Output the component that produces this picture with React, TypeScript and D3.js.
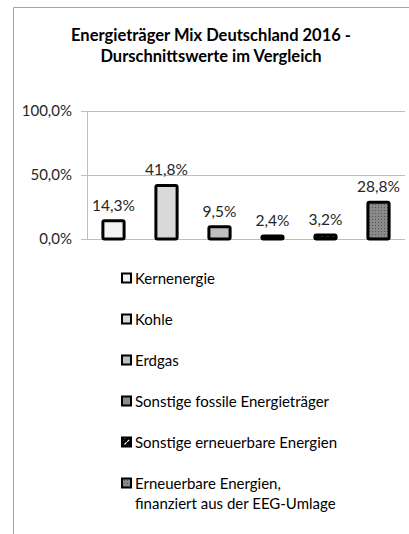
import * as d3 from "d3";
import React, { useEffect, useRef } from "react";

const categories = [
  "Kernenergie",
  "Kohle",
  "Erdgas",
  "Sonstige fossile Energieträger",
  "Sonstige erneuerbare Energien",
  "Erneuerbare Energien, finanziert aus der EEG-Umlage",
];
const values = [14.3, 41.8, 9.5, 2.4, 3.2, 28.8];
const yTicks = [0, 50, 100];
const legendLines = [
  ["Kernenergie"],
  ["Kohle"],
  ["Erdgas"],
  ["Sonstige fossile Energieträger"],
  ["Sonstige erneuerbare Energien"],
  ["Erneuerbare Energien,", "finanziert aus der EEG-Umlage"],
];
const fills = ["#f2f2f2", "#d9d9d9", "#bfbfbf", "#8c8c8c", "url(#dashPat)", "url(#dotPat)"];

const W = 409;
const H = 534;
const FONT = "Lato, 'Open Sans', sans-serif";
const fmt = (v: number) => v.toFixed(1).replace(".", ",") + "%";

const App = () => {
  const ref = useRef<SVGSVGElement>(null);

  useEffect(() => {
    const svg = d3.select(ref.current).attr("width", W).attr("height", H);
    svg.selectAll("*").remove();

    const defs = svg.append("defs");
    const dash = defs
      .append("pattern")
      .attr("id", "dashPat")
      .attr("patternUnits", "userSpaceOnUse")
      .attr("width", 6)
      .attr("height", 6);
    dash.append("rect").attr("width", 6).attr("height", 6).attr("fill", "#000");
    dash
      .append("path")
      .attr("d", "M0,6 L6,0")
      .attr("stroke", "#fff")
      .attr("stroke-width", 1.2)
      .attr("stroke-dasharray", "3,2");
    const dot = defs
      .append("pattern")
      .attr("id", "dotPat")
      .attr("patternUnits", "userSpaceOnUse")
      .attr("width", 3)
      .attr("height", 3);
    dot.append("rect").attr("width", 3).attr("height", 3).attr("fill", "#8a8a8a");
    dot.append("rect").attr("width", 1).attr("height", 1).attr("fill", "#555");

    // frame
    svg
      .append("path")
      .attr("d", `M13.5,${H} L13.5,7.5 L${W},7.5`)
      .attr("fill", "none")
      .attr("stroke", "#a6a6a6")
      .attr("stroke-width", 1);

    // title
    const title = svg
      .append("text")
      .attr("x", 211)
      .attr("text-anchor", "middle")
      .attr("font-family", FONT)
      .attr("font-weight", "bold")
      .attr("font-size", 16.5)
      .attr("fill", "#000");
    title.append("tspan").attr("x", 211).attr("y", 41).text("Energieträger Mix Deutschland  2016 -");
    title.append("tspan").attr("x", 211).attr("y", 62).text("Durschnittswerte im Vergleich");

    const x = d3.scaleBand().domain(categories).range([87, 405]).paddingInner(0.6).paddingOuter(0.3);
    const y = d3.scaleLinear().domain([0, 100]).range([239, 111]);

    const g = svg.append("g");
    g.selectAll("line.grid")
      .data(yTicks)
      .enter()
      .append("line")
      .attr("x1", 81)
      .attr("x2", 405)
      .attr("y1", (d) => Math.round(y(d)) + 0.5)
      .attr("y2", (d) => Math.round(y(d)) + 0.5)
      .attr("stroke", "#bfbfbf");
    g.append("line")
      .attr("x1", 87.5)
      .attr("x2", 87.5)
      .attr("y1", y(100))
      .attr("y2", y(0))
      .attr("stroke", "#bfbfbf");
    g.selectAll("text.tick")
      .data(yTicks)
      .enter()
      .append("text")
      .attr("x", 72)
      .attr("y", (d) => y(d) + 5)
      .attr("text-anchor", "end")
      .attr("font-family", FONT)
      .attr("font-size", 15)
      .attr("fill", "#262626")
      .text((d) => fmt(d));

    const bars = g
      .selectAll("g.bar")
      .data(values)
      .enter()
      .append("g");
    bars
      .append("rect")
      .attr("x", (_, i) => x(categories[i])!)
      .attr("width", x.bandwidth())
      .attr("y", (d) => y(d))
      .attr("height", (d) => y(0) - y(d))
      .attr("rx", 1.5)
      .attr("fill", (_, i) => fills[i])
      .attr("stroke", "#000")
      .attr("stroke-width", 3);
    bars
      .append("text")
      .attr("x", (_, i) => x(categories[i])! + x.bandwidth() / 2)
      .attr("y", (d) => y(d) - 10)
      .attr("text-anchor", "middle")
      .attr("font-family", FONT)
      .attr("font-size", 15.5)
      .attr("fill", "#262626")
      .text((d) => fmt(d));

    // legend
    const legend = svg
      .selectAll("g.leg")
      .data(legendLines)
      .enter()
      .append("g")
      .attr("transform", (_, i) => `translate(121,${278 + i * 41})`);
    legend
      .append("rect")
      .attr("x", 1)
      .attr("y", -4.5)
      .attr("width", 9)
      .attr("height", 9)
      .attr("fill", (_, i) => fills[i])
      .attr("stroke", "#000")
      .attr("stroke-width", 2);
    legend.each(function (lines) {
      const t = d3
        .select(this)
        .append("text")
        .attr("font-family", FONT)
        .attr("font-size", 15)
        .attr("fill", "#000");
      lines.forEach((l, k) => {
        t.append("tspan").attr("x", 14).attr("y", 5.5 + k * 20).text(l);
      });
    });
  }, []);

  return <svg ref={ref} style={{ position: "absolute", left: 0, top: 0 }} />;
};

export default App;
